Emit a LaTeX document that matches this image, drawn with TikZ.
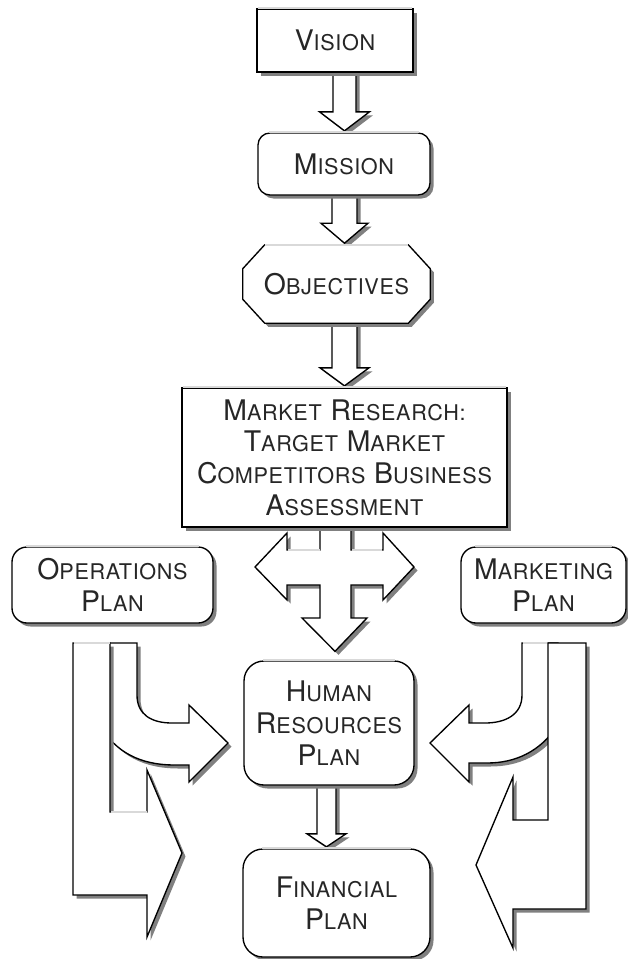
\documentclass[tikz,border=0pt]{standalone}
\usepackage{fontspec}
\setmainfont{TeX Gyre Heros}[LetterSpace=3]
\usepackage{tikz}
\usetikzlibrary{calc}
\usetikzlibrary{shadows}

% one unit of the drawing grid
\newlength\pxu
\setlength\pxu{0.026cm}

% small caps by hand: capital, then the rest smaller
\newcommand{\fakesc}[2]{{\fontsize{21}{23.5}\selectfont #1}{\fontsize{16}{23.5}\selectfont #2}}

\pgfdeclarelayer{back}
\pgfsetlayers{back,main}

\tikzset{
  dshadow/.style={drop shadow={shadow xshift=3.5\pxu, shadow yshift=-3.5\pxu, fill=black!50, opacity=1}},
  txt/.style={inner sep=0pt, align=center, text=black!85, font=\fontsize{21}{23.5}\selectfont},
  box/.style={txt, draw, fill=white, line width=1pt, dshadow},
  rbox/.style={box, rounded corners=#1},
  blk/.style={draw, fill=white, line width=1pt, line join=miter, dshadow},
  lit/.style={draw=black!15, line width=1.5pt},
}

% straight block arrow: x, from, to, half shaft, half head, head length
\newcommand{\blkdown}[6]{%
  \draw[blk] ($(#1-#4,0 |- #2.south)+(0,-4)$)
    -- ($(#1-#4,0 |- #3.north)+(0,-1.5-#6)$) -- ($(#1-#5,0 |- #3.north)+(0,-1.5-#6)$)
    -- ($(#1,0 |- #3.north)+(0,-1.5)$)
    -- ($(#1+#5,0 |- #3.north)+(0,-1.5-#6)$) -- ($(#1+#4,0 |- #3.north)+(0,-1.5-#6)$)
    -- ($(#1+#4,0 |- #2.south)+(0,-4)$) -- cycle;}

\begin{document}
\begin{tikzpicture}[x=\pxu, y=-\pxu]
  \useasboundingbox (0,0) rectangle (627,959);

  \node[box, minimum width=156\pxu, minimum height=63\pxu] at (335,40.5) (vision) {\fakesc{V}{ISION}};
  \node[rbox=12\pxu, minimum width=172\pxu, minimum height=62\pxu] at (344,164) (mission) {\fakesc{M}{ISSION}};
  \node[txt, minimum width=187\pxu, minimum height=78\pxu] at (336.5,284) (objectives) {\fakesc{O}{BJECTIVES}};
  \node[box, minimum width=325\pxu, minimum height=139\pxu] at (344.5,457.5) (market)
    {\fakesc{M}{ARKET} \fakesc{R}{ESEARCH:}\\\fakesc{T}{ARGET} \fakesc{M}{ARKET}\\
     \fakesc{C}{OMPETITORS} \fakesc{B}{USINESS}\\\fakesc{A}{SSESSMENT}};
  \node[rbox=15\pxu, minimum width=201\pxu, minimum height=76\pxu] at (112.5,585) (ops) {\fakesc{O}{PERATIONS}\\\fakesc{P}{LAN}};
  \node[rbox=15\pxu, minimum width=165\pxu, minimum height=76\pxu] at (543.5,585) (mkt) {\fakesc{M}{ARKETING}\\\fakesc{P}{LAN}};
  \node[rbox=20\pxu, minimum width=170\pxu, minimum height=124\pxu] at (329,723) (hr) {\fakesc{H}{UMAN}\\\fakesc{R}{ESOURCES}\\\fakesc{P}{LAN}};
  \node[rbox=20\pxu, minimum width=187\pxu, minimum height=108\pxu] at (336.5,903) (fin) {\fakesc{F}{INANCIAL}\\\fakesc{P}{LAN}};

  % lit top edges
  \draw[lit] ([xshift=1pt]vision.north west) -- ([xshift=-1pt]vision.north east);
  \draw[lit] ([xshift=12\pxu]mission.north west) -- ([xshift=-12\pxu]mission.north east);
  \draw[lit] ([xshift=22\pxu]objectives.north west) -- ([xshift=-22\pxu]objectives.north east);
  \draw[lit] ([xshift=1pt]market.north west) -- ([xshift=-1pt]market.north east);
  \draw[lit] ([xshift=15\pxu]ops.north west) -- ([xshift=-15\pxu]ops.north east);
  \draw[lit] ([xshift=15\pxu]mkt.north west) -- ([xshift=-15\pxu]mkt.north east);
  \draw[lit] ([xshift=20\pxu]hr.north west) -- ([xshift=-20\pxu]hr.north east);
  \draw[lit] ([xshift=20\pxu]fin.north west) -- ([xshift=-20\pxu]fin.north east);

  \begin{pgfonlayer}{back}
    \blkdown{344.5}{vision}{mission}{11.5}{25}{19}
    \blkdown{344.5}{mission}{objectives}{12.5}{23.5}{20}
    \blkdown{344.5}{objectives}{market}{12.5}{24.5}{18}
    \blkdown{326.5}{hr}{fin}{9.5}{19.5}{13}

    % cut-corner outline of the objectives box
    \draw[blk] ([xshift=22\pxu]objectives.north west) -- ([xshift=-22\pxu]objectives.north east)
      -- ([yshift=-24\pxu]objectives.north east) -- ([yshift=24\pxu]objectives.south east)
      -- ([xshift=-22\pxu]objectives.south east) -- ([xshift=22\pxu]objectives.south west)
      -- ([yshift=24\pxu]objectives.south west) -- ([yshift=-24\pxu]objectives.north west) -- cycle;

    % three-way arrow under the research box
    \coordinate (tipW) at (255,567);
    \coordinate (tipE) at (414,567);
    \draw[blk] ($(320,0 |- market.south)+(0,-6)$) -- (320,550) -- (287,550) -- (287,533) -- (tipW)
      -- (287,600) -- (287,585) -- (320,585) -- (320,618) -- (302,618)
      -- ($(335,0 |- hr.north)+(0,-9)$)
      -- (367,618) -- (351,618) -- (351,585) -- (383,585) -- (383,600) -- (tipE)
      -- (383,533) -- (383,550) -- (351,550) -- ($(351,0 |- market.south)+(0,-6)$) -- cycle;
    \draw[lit] (288,550) -- (319.5,550) (351.5,550) -- (382,550);
  \end{pgfonlayer}

  % left side: curved arrow, then the long one on top
  \draw[blk] (100,643) -- (137,643) -- (137,695) .. controls (137,715) and (152,723) .. (172,723)
    -- (189,723) -- (189,705) -- (228,743) -- (189,782) -- (189,765) -- (175,765)
    .. controls (140,765) and (115,752) .. (100,725) -- cycle;
  \draw[blk] (73,643) -- (110,643) -- (110,812) -- (147,812) -- (147,770) -- (182,853)
    -- (147,937) -- (147,895) -- (73,895) -- cycle;
  \draw[lit] (74,643) -- (109.5,643) (110.5,812) -- (146.5,812);

  % right side
  \draw[blk] (522,643) -- (558,643) -- (558,725) .. controls (540,752) and (515,763) .. (487,763)
    -- (469,763) -- (469,782) -- (430,743) -- (469,705) -- (469,723) -- (485,723)
    .. controls (505,723) and (522,715) .. (522,695) -- cycle;
  \draw[lit] (522.5,643) -- (548,643);
  \draw[blk] (548,643) -- (586,643) -- (586,909) -- (513,909) -- (513,948) -- (476,865)
    -- (513,777) -- (513,820) -- (548,820) -- cycle;
\end{tikzpicture}
\end{document}
